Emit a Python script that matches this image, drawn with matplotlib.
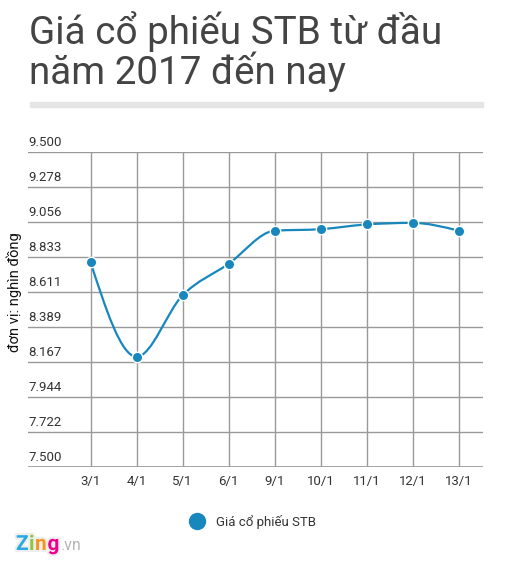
import matplotlib.pyplot as plt
import matplotlib.patheffects as pe
from matplotlib.path import Path
from matplotlib.patches import PathPatch, Rectangle
import numpy as np

plt.rcParams['font.family'] = ['Roboto', 'DejaVu Sans']

dates = ['3/1', '4/1', '5/1', '6/1', '9/1', '10/1', '11/1', '12/1', '13/1']
prices = [8.80, 8.20, 8.59, 8.79, 9.00, 9.01, 9.04, 9.05, 9.00]
yticks = [7.5 + i * 2 / 9 for i in range(10)]

title = 'Giá cổ phiếu STB từ đầu\nnăm 2017 đến nay'
ylabel = 'đơn vị: nghìn đồng'
series_name = 'Giá cổ phiếu STB'

blue = '#1787bd'
W, H = 508, 564


def monotone_path(xs, ys):
    # same shape as d3 curveMonotoneX
    xs = np.asarray(xs, float)
    ys = np.asarray(ys, float)
    n = len(xs)
    h = np.diff(xs)
    s = np.diff(ys) / h
    t = np.zeros(n)
    for i in range(1, n - 1):
        p = (s[i - 1] * h[i] + s[i] * h[i - 1]) / (h[i - 1] + h[i])
        t[i] = (np.sign(s[i - 1]) + np.sign(s[i])) * min(abs(s[i - 1]), abs(s[i]), 0.5 * abs(p))
    t[0] = (3 * s[0] - t[1]) / 2
    t[-1] = (3 * s[-1] - t[-2]) / 2
    verts = [(xs[0], ys[0])]
    codes = [Path.MOVETO]
    for i in range(n - 1):
        dx = h[i] / 3
        verts += [(xs[i] + dx, ys[i] + dx * t[i]),
                  (xs[i + 1] - dx, ys[i + 1] - dx * t[i + 1]),
                  (xs[i + 1], ys[i + 1])]
        codes += [Path.CURVE4] * 3
    return Path(verts, codes)


fig = plt.figure(figsize=(W / 100, H / 100), dpi=100)

fig.text(29 / W, 1 - 11 / H, title, ha='left', va='top', fontsize=27.8,
         color='#444444', linespacing=0.98)
fig.patches.append(Rectangle((30 / W, 1 - 107 / H), 453 / W, 5 / H,
                             transform=fig.transFigure, color='#e5e5e5'))

ax = fig.add_axes([28 / W, 1 - 467 / H, 455 / W, 315 / H])
x = np.arange(len(dates))
ax.set_xlim(-1.36, 8.53)
ax.set_ylim(7.5, 9.5)
ax.set_xticks(x)
ax.set_xticklabels(dates, fontsize=9.5, color='#333333')
ax.set_yticks(yticks)
ax.set_yticklabels([])
ax.tick_params(axis='both', length=0)
ax.tick_params(axis='x', pad=6)
ax.grid(True, color='#999999', linewidth=1)
for sp in ax.spines.values():
    sp.set_visible(False)
ax.axhline(7.5, color='#999999', linewidth=1.2)

for v in yticks:
    ax.annotate(f'{v:.3f}', (0.001, v), xycoords=ax.get_yaxis_transform(),
                xytext=(0, 3), textcoords='offset pixels',
                ha='left', va='bottom', fontsize=9.5, color='#333333')

ax.add_patch(PathPatch(monotone_path(x, prices), fill=False, edgecolor=blue,
                       linewidth=1.6, zorder=3))
ax.plot(x, prices, linestyle='none', marker='o', markersize=7.5,
        markerfacecolor=blue, markeredgecolor='white', markeredgewidth=1, zorder=4,
        clip_on=False)

fig.text(14 / W, 1 - 292 / H, ylabel, rotation=90, ha='center', va='center',
         fontsize=10.5, color='#111111')

# legend
fig.legend([plt.Line2D([], [], linestyle='none', marker='o', markersize=11.5,
                       markerfacecolor=blue, markeredgecolor=blue)],
           [series_name], loc='center', bbox_to_anchor=(250 / W, 1 - 522 / H),
           frameon=False, fontsize=9.5, handletextpad=0.5, labelcolor='#333333')

# logo
logo = [('Z', '#29a9e1'), ('i', '#8dc63f'), ('n', '#f7941d'), ('g', '#ec008c')]
lx = 16
for ch, col in logo:
    t = fig.text(lx / W, 1 - 550 / H, ch, color=col, fontsize=15, fontweight='bold',
                 ha='left', va='baseline',
                 path_effects=[pe.withStroke(linewidth=3, foreground='#eeeeee')])
    lx += {'Z': 13, 'i': 6, 'n': 12.5, 'g': 12}[ch]
fig.text((lx + 1) / W, 1 - 550 / H, '.vn', color='#b5b5b5', fontsize=11.5,
         ha='left', va='baseline')

fig.savefig('out.png', dpi=100)
